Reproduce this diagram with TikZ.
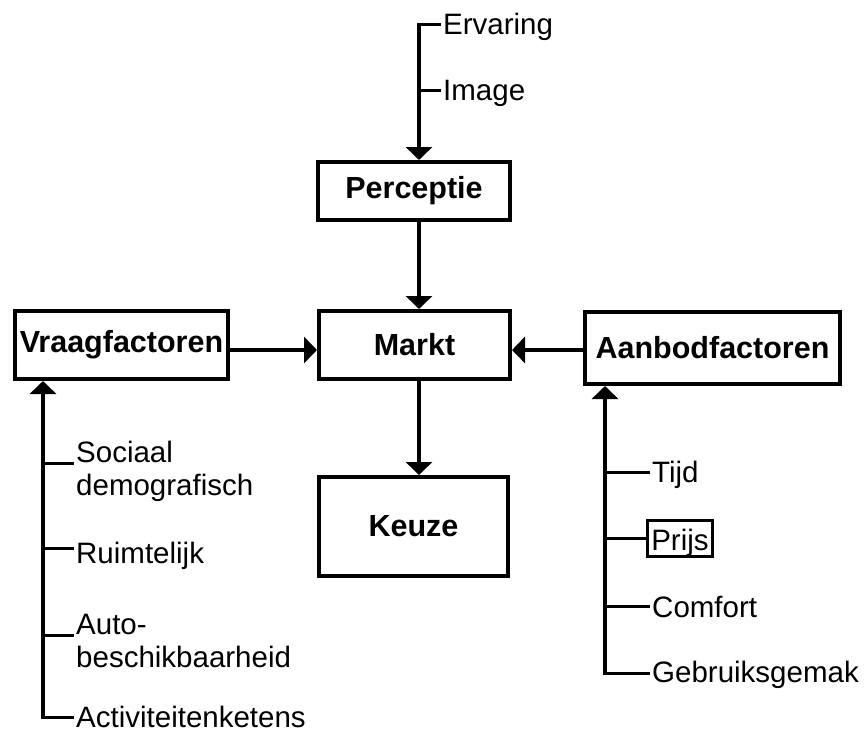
\documentclass[tikz,border=0pt]{standalone}
\usepackage{fontspec}
\setmainfont{Liberation Sans}
\usetikzlibrary{arrows.meta}
\begin{document}
\begin{tikzpicture}[x=1pt,y=-1pt,
 box/.style={draw, line width=4pt, inner sep=0pt, font=\fontsize{30.5}{33}\selectfont\bfseries},
 lab/.style={inner sep=0pt, anchor=base west, font=\fontsize{29.5}{33}\selectfont},
 lab2/.style={lab, text width=260pt, align=left},
 arr/.style={line width=4pt, -{Triangle[width=26pt,length=13pt]}},
 stub/.style={line width=3pt, shorten >=2pt}]
\useasboundingbox (0,0) rectangle (864,734);
% boxes
\node[box, minimum width=192pt, minimum height=58pt] (perc) at (414,191) {Perceptie};
\node[box, minimum width=191pt, minimum height=68pt] (markt) at (414.5,345) {Markt};
\node[box, minimum width=189pt, minimum height=99pt] (keuze) at (413.5,526.5) {Keuze};
\node[box, minimum width=213pt, minimum height=68pt] (vraag) at (121.5,345) {Vraagfactoren};
\node[box, minimum width=255pt, minimum height=72pt] (aanbod) at (712.5,348) {Aanbodfactoren};
% main arrows
\coordinate (cx) at (419,0);
\coordinate (ay) at (0,350);
\draw[arr] (perc.south -| cx) -- (markt.north -| cx);
\draw[arr] (markt.south -| cx) -- (keuze.north -| cx);
\draw[arr] (vraag.east |- ay) -- (markt.west |- ay);
\draw[arr] (aanbod.west |- ay) -- (markt.east |- ay);
% top inputs
\coordinate (erv) at (419,24);
\coordinate (img) at (419,90);
\node[lab] (ervL) at (443,34) {Ervaring};
\node[lab] (imgL) at (443,100) {Image};
\draw[arr] (erv) -- (perc.north -| erv);
\draw[stub] ([xshift=-2pt]erv) -- (ervL.west |- erv);
\draw[stub] (img) -- (imgL.west |- img);
% left inputs
\coordinate (l1) at (43,463);
\coordinate (l2) at (43,548);
\coordinate (l3) at (43,635);
\coordinate (l4) at (43,717);
\node[lab2] (soc) at (76,462) {Sociaal\\demografisch};
\node[lab] (ruim) at (76,563) {Ruimtelijk};
\node[lab2] (auto) at (76,634) {Auto-\\beschikbaarheid};
\node[lab] (act) at (76,727) {Activiteitenketens};
\draw[arr] (l4) -- (vraag.south -| l4);
\draw[stub] (l1) -- (soc.west |- l1);
\draw[stub] (l2) -- (ruim.west |- l2);
\draw[stub] (l3) -- (auto.west |- l3);
\draw[stub] ([xshift=-2pt]l4) -- (act.west |- l4);
% right inputs
\coordinate (r1) at (605,472);
\coordinate (r2) at (605,538);
\coordinate (r3) at (605,606);
\coordinate (r4) at (605,673);
\node[lab] (tijd) at (652,482) {Tijd};
\node[lab, draw, line width=2.5pt, inner xsep=4pt, inner ysep=4.5pt, text height=25pt, text depth=2pt] (prijs) at (646,550) {Prijs};
\node[lab] (comf) at (652,617) {Comfort};
\node[lab] (gebr) at (652,682) {Gebruiksgemak};
\draw[arr] (r4) -- (aanbod.south -| r4);
\draw[stub] (r1) -- (tijd.west |- r1);
\draw[stub, shorten >=0pt] (r2) -- (prijs.west |- r2);
\draw[stub] (r3) -- (comf.west |- r3);
\draw[stub] ([xshift=-2pt]r4) -- (gebr.west |- r4);
\end{tikzpicture}
\end{document}
